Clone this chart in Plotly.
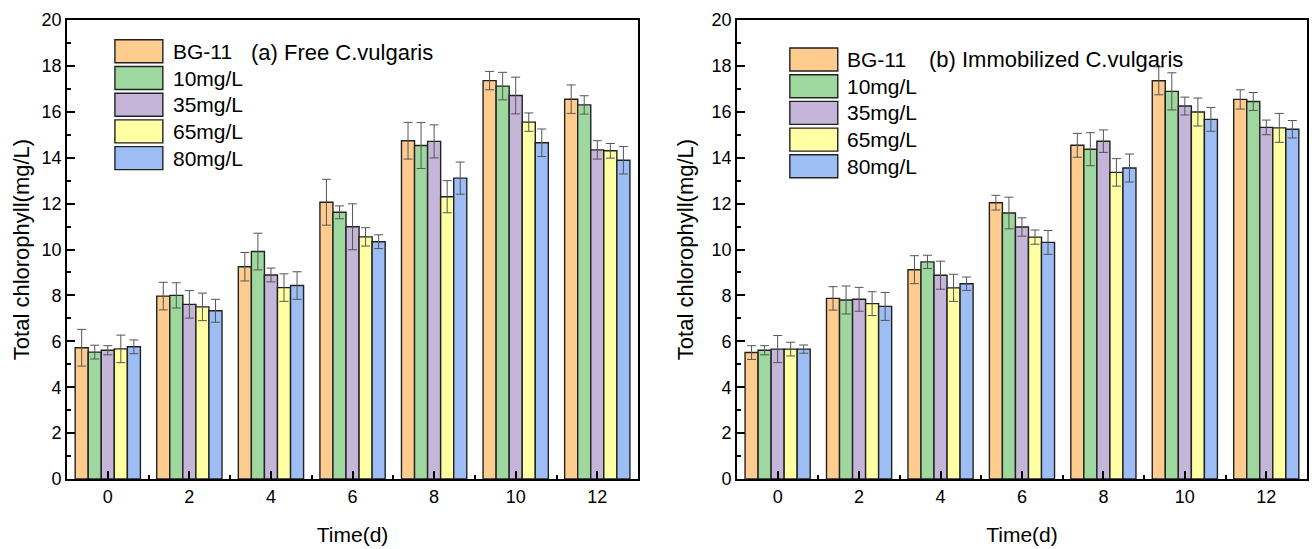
import plotly.graph_objects as go

# ---------------- data ----------------
days = [0, 2, 4, 6, 8, 10, 12]
series_names = ["BG-11", "10mg/L", "35mg/L", "65mg/L", "80mg/L"]
series_colors = ["#FFCC90", "#9ED89E", "#C5B5D9", "#FFFFA3", "#9DBDF5"]

# (a) Free C.vulgaris
free_bg11 = [5.72, 7.97, 9.25, 12.06, 14.74, 17.36, 16.55]
free_10 = [5.53, 8.00, 9.91, 11.62, 14.53, 17.12, 16.30]
free_35 = [5.61, 7.61, 8.89, 10.99, 14.71, 16.71, 14.34]
free_65 = [5.67, 7.50, 8.34, 10.55, 12.30, 15.55, 14.30]
free_80 = [5.76, 7.33, 8.43, 10.34, 13.11, 14.65, 13.89]
free_bg11_err = [0.80, 0.60, 0.62, 1.00, 0.80, 0.40, 0.62]
free_10_err = [0.30, 0.55, 0.80, 0.28, 1.00, 0.60, 0.40]
free_35_err = [0.20, 0.60, 0.30, 1.00, 0.72, 0.80, 0.40]
free_65_err = [0.60, 0.60, 0.60, 0.40, 0.70, 0.40, 0.32]
free_80_err = [0.30, 0.50, 0.60, 0.30, 0.70, 0.60, 0.60]

# (b) Immobilized C.vulgaris
imm_bg11 = [5.51, 7.87, 9.12, 12.04, 14.54, 17.35, 16.54]
imm_10 = [5.61, 7.80, 9.46, 11.59, 14.37, 16.89, 16.45]
imm_35 = [5.66, 7.83, 8.88, 10.98, 14.72, 16.25, 15.32]
imm_65 = [5.66, 7.64, 8.33, 10.54, 13.36, 15.99, 15.30]
imm_80 = [5.66, 7.52, 8.51, 10.31, 13.55, 15.67, 15.24]
imm_bg11_err = [0.30, 0.51, 0.61, 0.32, 0.52, 0.61, 0.42]
imm_10_err = [0.20, 0.61, 0.29, 0.69, 0.72, 0.81, 0.39]
imm_35_err = [0.59, 0.52, 0.61, 0.40, 0.49, 0.39, 0.32]
imm_65_err = [0.30, 0.52, 0.59, 0.31, 0.60, 0.61, 0.63]
imm_80_err = [0.18, 0.61, 0.29, 0.52, 0.61, 0.52, 0.38]

free_vals = [free_bg11, free_10, free_35, free_65, free_80]
free_errs = [free_bg11_err, free_10_err, free_35_err, free_65_err, free_80_err]
imm_vals = [imm_bg11, imm_10, imm_35, imm_65, imm_80]
imm_errs = [imm_bg11_err, imm_10_err, imm_35_err, imm_65_err, imm_80_err]

# ---------------- layout helpers ----------------
W, H = 1312, 549
ML, MR, MT, MB = 67, 3, 20, 70
PW, PH = W - ML - MR, H - MT - MB
FONT = "Arial, Liberation Sans, sans-serif"


def px(x):
    return (x - ML) / PW


def py(y):
    return (H - MB - y) / PH


fig = go.Figure()

for vals, errs, xa, ya in [(free_vals, free_errs, "x", "y"), (imm_vals, imm_errs, "x2", "y2")]:
    for name, color, v, e in zip(series_names, series_colors, vals, errs):
        fig.add_trace(go.Bar(
            x=days, y=v, name=name, xaxis=xa, yaxis=ya, showlegend=False,
            marker=dict(color=color, line=dict(color="#222222", width=1.4)),
            error_y=dict(type="data", array=e, visible=True, color="#555555",
                         thickness=1, width=4.5),
        ))

axis_common = dict(
    showline=True, linecolor="black", linewidth=1.8, mirror=True,
    ticks="inside", tickcolor="black", tickwidth=1.6,
    showgrid=False, zeroline=False,
    tickfont=dict(family=FONT, size=18, color="black"),
)
xcommon = dict(axis_common, range=[-1, 13], tickmode="array", tickvals=days, ticklen=8,
               minor=dict(tickmode="array", tickvals=[-1, 1, 3, 5, 7, 9, 11, 13],
                          ticks="inside", ticklen=4, tickwidth=1.6, tickcolor="black"),
               title=dict(text="Time(d)", font=dict(family=FONT, size=21, color="black"),
                          standoff=22))
ycommon = dict(axis_common, range=[0, 20], dtick=2, ticklen=8,
               minor=dict(dtick=1, ticks="inside", ticklen=4, tickwidth=1.6, tickcolor="black"),
               title=dict(text="Total chlorophyll(mg/L)",
                          font=dict(family=FONT, size=22, color="black"), standoff=6))

shapes, annotations = [], []
legend_specs = [
    (115, 163, 51.3, 171, "(a) Free C.vulgaris", 249, 52),
    (791, 839, 59.5, 846, "(b) Immobilized C.vulgaris", 928, 60),
]
for (sx0, sx1, cy0, tx, label, lx, ly) in legend_specs:
    for i, (name, color) in enumerate(zip(series_names, series_colors)):
        cy = cy0 + i * 26.7
        shapes.append(dict(type="rect", xref="paper", yref="paper",
                           x0=px(sx0), x1=px(sx1), y0=py(cy + 11.5), y1=py(cy - 11.5),
                           fillcolor=color, line=dict(color="#222222", width=1.4)))
        annotations.append(dict(text=name, xref="paper", yref="paper", x=px(tx), y=py(cy),
                                xanchor="left", yanchor="middle", showarrow=False,
                                font=dict(family=FONT, size=21, color="black")))
    annotations.append(dict(text=label, xref="paper", yref="paper", x=px(lx), y=py(ly),
                            xanchor="left", yanchor="middle", showarrow=False,
                            font=dict(family=FONT, size=22, color="black")))

fig.update_layout(
    width=W, height=H,
    margin=dict(l=ML, r=MR, t=MT, b=MB),
    paper_bgcolor="white", plot_bgcolor="white",
    barmode="group", bargap=0.2, bargroupgap=0,
    showlegend=False,
    xaxis=dict(xcommon, domain=[0, px(639)], anchor="y"),
    yaxis=dict(ycommon, domain=[0, 1], anchor="x"),
    xaxis2=dict(xcommon, domain=[px(738), 1], anchor="y2"),
    yaxis2=dict(ycommon, domain=[0, 1], anchor="x2"),
    shapes=shapes, annotations=annotations,
)
fig.layout.yaxis2.title.standoff = 12

fig.write_html("out.html")
